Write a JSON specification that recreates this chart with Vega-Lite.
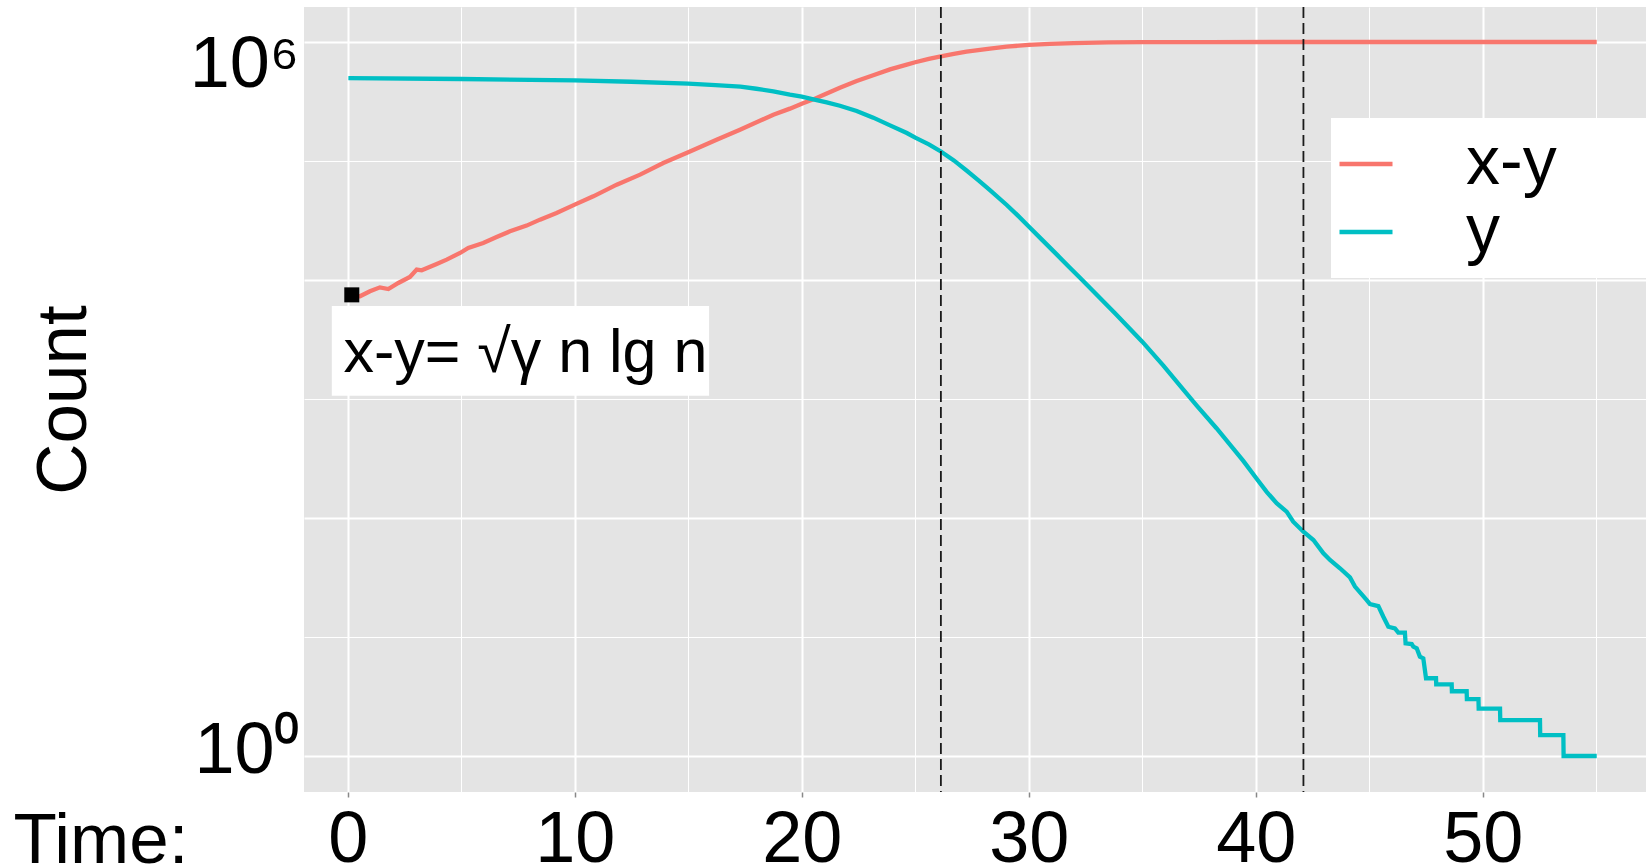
{
  "$schema": "https://vega.github.io/schema/vega-lite/v6.json",
  "width": 1342,
  "height": 785,
  "autosize": {"type": "none"},
  "padding": {"left": 304, "top": 7, "right": 0, "bottom": 76},
  "background": "white",
  "config": {
    "font": "Liberation Sans",
    "view": {"fill": "#E4E4E4", "stroke": null},
    "axis": {"domain": false, "labelFont": "Liberation Sans", "titleFont": "Liberation Sans", "labelColor": "black", "titleColor": "black", "titleFontWeight": "normal", "gridColor": "white", "labelOverlap": false, "labelFlush": false}
  },
  "datasets": {
    "curves": [
      {"t": 0.18, "count": 7300, "series": "x-y"},
      {"t": 0.54, "count": 7300, "series": "x-y"},
      {"t": 0.98, "count": 8040, "series": "x-y"},
      {"t": 1.42, "count": 8670, "series": "x-y"},
      {"t": 1.79, "count": 8400, "series": "x-y"},
      {"t": 2.23, "count": 9440, "series": "x-y"},
      {"t": 2.74, "count": 10590, "series": "x-y"},
      {"t": 3.04, "count": 12220, "series": "x-y"},
      {"t": 3.26, "count": 12050, "series": "x-y"},
      {"t": 3.92, "count": 13610, "series": "x-y"},
      {"t": 4.36, "count": 14830, "series": "x-y"},
      {"t": 4.95, "count": 16870, "series": "x-y"},
      {"t": 5.31, "count": 18580, "series": "x-y"},
      {"t": 5.97, "count": 20460, "series": "x-y"},
      {"t": 6.56, "count": 22960, "series": "x-y"},
      {"t": 7.15, "count": 25640, "series": "x-y"},
      {"t": 7.88, "count": 28640, "series": "x-y"},
      {"t": 8.47, "count": 32140, "series": "x-y"},
      {"t": 9.2, "count": 36560, "series": "x-y"},
      {"t": 10.0, "count": 42950, "series": "x-y"},
      {"t": 10.82, "count": 50470, "series": "x-y"},
      {"t": 11.85, "count": 63240, "series": "x-y"},
      {"t": 12.88, "count": 76740, "series": "x-y"},
      {"t": 13.9, "count": 96160, "series": "x-y"},
      {"t": 15.0, "count": 118300, "series": "x-y"},
      {"t": 16.25, "count": 151000, "series": "x-y"},
      {"t": 17.28, "count": 183200, "series": "x-y"},
      {"t": 18.75, "count": 244900, "series": "x-y"},
      {"t": 19.48, "count": 275400, "series": "x-y"},
      {"t": 20.0, "count": 302700, "series": "x-y"},
      {"t": 20.51, "count": 329600, "series": "x-y"},
      {"t": 20.95, "count": 358900, "series": "x-y"},
      {"t": 21.68, "count": 412100, "series": "x-y"},
      {"t": 22.42, "count": 469900, "series": "x-y"},
      {"t": 23.15, "count": 524800, "series": "x-y"},
      {"t": 23.89, "count": 588800, "series": "x-y"},
      {"t": 24.63, "count": 645700, "series": "x-y"},
      {"t": 25.0, "count": 676100, "series": "x-y"},
      {"t": 25.6, "count": 721100, "series": "x-y"},
      {"t": 26.13, "count": 756800, "series": "x-y"},
      {"t": 26.7, "count": 794300, "series": "x-y"},
      {"t": 27.26, "count": 827900, "series": "x-y"},
      {"t": 28.29, "count": 881000, "series": "x-y"},
      {"t": 29.03, "count": 914100, "series": "x-y"},
      {"t": 30.0, "count": 944100, "series": "x-y"},
      {"t": 30.93, "count": 963900, "series": "x-y"},
      {"t": 31.97, "count": 979500, "series": "x-y"},
      {"t": 33.5, "count": 990800, "series": "x-y"},
      {"t": 35.0, "count": 995400, "series": "x-y"},
      {"t": 38.0, "count": 998800, "series": "x-y"},
      {"t": 45.0, "count": 1000000, "series": "x-y"},
      {"t": 55.02, "count": 1000000, "series": "x-y"},
      {"t": 0.03, "count": 497700, "series": "y"},
      {"t": 5.0, "count": 488700, "series": "y"},
      {"t": 10.0, "count": 476400, "series": "y"},
      {"t": 12.5, "count": 463400, "series": "y"},
      {"t": 15.0, "count": 446700, "series": "y"},
      {"t": 16.2, "count": 434500, "series": "y"},
      {"t": 17.3, "count": 421700, "series": "y"},
      {"t": 18.0, "count": 404600, "series": "y"},
      {"t": 18.75, "count": 384600, "series": "y"},
      {"t": 19.48, "count": 360600, "series": "y"},
      {"t": 20.0, "count": 346700, "series": "y"},
      {"t": 20.51, "count": 329600, "series": "y"},
      {"t": 21.1, "count": 311200, "series": "y"},
      {"t": 21.68, "count": 291100, "series": "y"},
      {"t": 22.42, "count": 263000, "series": "y"},
      {"t": 23.15, "count": 231200, "series": "y"},
      {"t": 23.89, "count": 199100, "series": "y"},
      {"t": 24.63, "count": 171800, "series": "y"},
      {"t": 25.0, "count": 157000, "series": "y"},
      {"t": 25.6, "count": 138000, "series": "y"},
      {"t": 26.13, "count": 120200, "series": "y"},
      {"t": 26.7, "count": 101200, "series": "y"},
      {"t": 27.26, "count": 83180, "series": "y"},
      {"t": 27.8, "count": 68390, "series": "y"},
      {"t": 28.29, "count": 56890, "series": "y"},
      {"t": 29.03, "count": 42660, "series": "y"},
      {"t": 29.5, "count": 35080, "series": "y"},
      {"t": 30.0, "count": 28180, "series": "y"},
      {"t": 30.6, "count": 21630, "series": "y"},
      {"t": 31.23, "count": 16410, "series": "y"},
      {"t": 31.8, "count": 12740, "series": "y"},
      {"t": 32.3, "count": 10230, "series": "y"},
      {"t": 33.05, "count": 7328, "series": "y"},
      {"t": 33.8, "count": 5248, "series": "y"},
      {"t": 34.4, "count": 3981, "series": "y"},
      {"t": 35.0, "count": 3034, "series": "y"},
      {"t": 35.93, "count": 1905, "series": "y"},
      {"t": 36.8, "count": 1202, "series": "y"},
      {"t": 37.4, "count": 881, "series": "y"},
      {"t": 38.27, "count": 568, "series": "y"},
      {"t": 39.0, "count": 385, "series": "y"},
      {"t": 39.45, "count": 302, "series": "y"},
      {"t": 40.04, "count": 214, "series": "y"},
      {"t": 40.48, "count": 166, "series": "y"},
      {"t": 40.92, "count": 133, "series": "y"},
      {"t": 41.36, "count": 113, "series": "y"},
      {"t": 41.65, "count": 93.1, "series": "y"},
      {"t": 42.1, "count": 76.7, "series": "y"},
      {"t": 42.54, "count": 65.3, "series": "y"},
      {"t": 42.98, "count": 50.5, "series": "y"},
      {"t": 43.27, "count": 44.4, "series": "y"},
      {"t": 43.71, "count": 37.8, "series": "y"},
      {"t": 44.15, "count": 31.7, "series": "y"},
      {"t": 44.37, "count": 26.5, "series": "y"},
      {"t": 44.88, "count": 20.5, "series": "y"},
      {"t": 45.03, "count": 18.9, "series": "y"},
      {"t": 45.4, "count": 18.2, "series": "y"},
      {"t": 45.62, "count": 14.8, "series": "y"},
      {"t": 45.84, "count": 12.2, "series": "y"},
      {"t": 46.13, "count": 11.8, "series": "y"},
      {"t": 46.28, "count": 10.9, "series": "y"},
      {"t": 46.57, "count": 10.9, "series": "y"},
      {"t": 46.6, "count": 8.85, "series": "y"},
      {"t": 46.87, "count": 8.73, "series": "y"},
      {"t": 46.94, "count": 8.3, "series": "y"},
      {"t": 47.09, "count": 8.04, "series": "y"},
      {"t": 47.23, "count": 6.84, "series": "y"},
      {"t": 47.38, "count": 6.62, "series": "y"},
      {"t": 47.5, "count": 4.5, "series": "y"},
      {"t": 47.94, "count": 4.5, "series": "y"},
      {"t": 47.95, "count": 4.0, "series": "y"},
      {"t": 48.63, "count": 4.0, "series": "y"},
      {"t": 48.64, "count": 3.5, "series": "y"},
      {"t": 49.29, "count": 3.5, "series": "y"},
      {"t": 49.3, "count": 3.0, "series": "y"},
      {"t": 49.81, "count": 3.0, "series": "y"},
      {"t": 49.82, "count": 2.5, "series": "y"},
      {"t": 50.76, "count": 2.5, "series": "y"},
      {"t": 50.77, "count": 2.0, "series": "y"},
      {"t": 52.52, "count": 2.0, "series": "y"},
      {"t": 52.53, "count": 1.5, "series": "y"},
      {"t": 53.55, "count": 1.5, "series": "y"},
      {"t": 53.56, "count": 1.0, "series": "y"},
      {"t": 55.02, "count": 1.0, "series": "y"}
    ],
    "events": [{"t": 26.13}, {"t": 42.1}],
    "note": [{"t": 0.18, "count": 7500, "label": "x-y= √γ n lg n"}]
  },
  "layer": [
    {
      "data": {"name": "curves"},
      "mark": {"type": "line", "strokeWidth": 4.3},
      "encoding": {
        "x": {
          "field": "t", "type": "quantitative",
          "scale": {"domain": [-1.925, 57.19], "nice": false, "zero": false},
          "axis": {
            "values": [0, 5, 10, 15, 20, 25, 30, 35, 40, 45, 50, 55],
            "format": "d",
            "labelExpr": "datum.value % 10 === 0 ? datum.label : ''",
            "gridWidth": {"condition": {"test": "datum.value % 10 === 0", "value": 2}, "value": 1},
            "tickOpacity": {"condition": {"test": "datum.value % 10 === 0", "value": 1}, "value": 0},
            "tickSize": 5, "tickColor": "#888888", "tickWidth": 1.5,
            "labelFontSize": 72, "labelPadding": 64.7, "labelBaseline": "alphabetic",
            "title": "Time:", "titleFontSize": 71, "titleX": -291, "titleY": 70,
            "titleAlign": "left", "titleBaseline": "alphabetic", "titleAnchor": "start"
          }
        },
        "y": {
          "field": "count", "type": "quantitative",
          "scale": {"type": "log", "domain": [0.4983, 1967700], "nice": false},
          "axis": {
            "values": [1, 10, 100, 1000, 10000, 100000, 1000000],
            "labelExpr": "datum.value == 1 ? '10\u2070' : (datum.value == 1000000 ? '10\u2076' : '')",
            "gridWidth": {"condition": {"test": "datum.value == 1 || datum.value == 100 || datum.value == 10000 || datum.value == 1000000", "value": 2}, "value": 1},
            "ticks": false, "tickSize": 0,
            "labelFontSize": 72, "labelPadding": 5, "labelBaseline": "alphabetic",
            "labelOffset": {"condition": {"test": "datum.value == 1000000", "value": 45}, "value": 16},
            "title": "Count", "titleFontSize": 71, "titleX": -219, "titleY": 392.5,
            "titleAngle": -90, "titleBaseline": "alphabetic", "titleAlign": "center"
          }
        },
        "color": {
          "field": "series", "type": "nominal",
          "scale": {"domain": ["x-y", "y"], "range": ["#F8766D", "#00BFC4"]},
          "legend": {
            "title": null, "orient": "none", "legendX": 1027, "legendY": 111,
            "fillColor": "white", "padding": 12, "symbolType": "stroke",
            "symbolSize": 2809, "symbolStrokeWidth": 4.3, "labelFontSize": 68,
            "labelFont": "Liberation Sans", "labelColor": "black",
            "symbolOffset": -11, "labelOffset": 66, "rowPadding": -40, "labelLimit": 0,
            "labelExpr": "datum.label + '\u00a0\u00a0\u2800\u2800\u2800'"
          }
        }
      }
    },
    {
      "data": {"name": "note"},
      "mark": {"type": "rect", "fill": "white"},
      "encoding": {
        "x": {"datum": -0.7, "type": "quantitative"},
        "x2": {"datum": 15.92},
        "y": {"datum": 6046, "type": "quantitative"},
        "y2": {"datum": 1066}
      }
    },
    {
      "data": {"name": "note"},
      "mark": {"type": "point", "shape": "square", "size": 225, "filled": true, "color": "black", "opacity": 1},
      "encoding": {
        "x": {"field": "t", "type": "quantitative"},
        "y": {"field": "count", "type": "quantitative"}
      }
    },
    {
      "data": {"name": "note"},
      "mark": {"type": "text", "align": "left", "baseline": "alphabetic", "fontSize": 61, "font": "Liberation Sans", "color": "black"},
      "encoding": {
        "x": {"datum": -0.19, "type": "quantitative"},
        "y": {"datum": 1695, "type": "quantitative"},
        "text": {"field": "label"}
      }
    },
    {
      "data": {"name": "events"},
      "mark": {"type": "rule", "strokeDash": [11, 5], "strokeWidth": 1.8, "color": "#1a1a1a"},
      "encoding": {
        "x": {"field": "t", "type": "quantitative"}
      }
    }
  ]
}
